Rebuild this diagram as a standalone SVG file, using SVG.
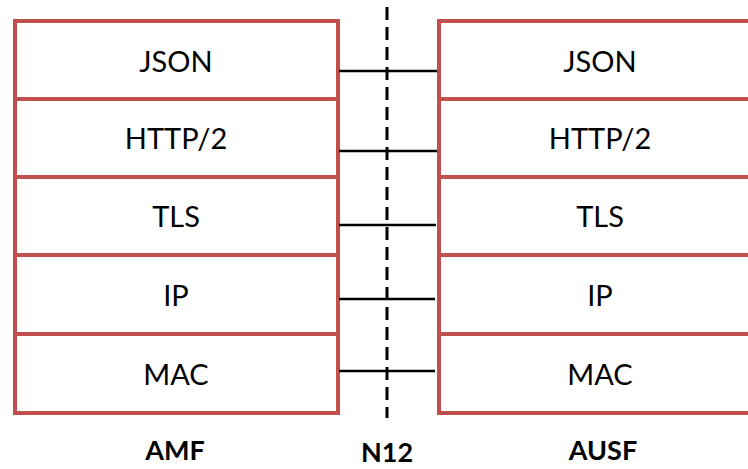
<svg xmlns="http://www.w3.org/2000/svg" width="748" height="469" viewBox="0 0 748 469">
<style>
.box{fill:#fff;stroke:#C0504D;stroke-width:4}
.t{font-family:Lato,"Liberation Sans",sans-serif;font-size:29px;fill:#000;text-anchor:middle}
.b{font-family:Lato,"Liberation Sans",sans-serif;font-size:27px;font-weight:bold;fill:#000;text-anchor:middle}
.c{stroke:#000;stroke-width:2.5;fill:none}
.d{stroke:#000;stroke-width:3;stroke-dasharray:13 7;fill:none}
</style>
<g id="amf">
<rect class="box" x="15" y="21" width="323" height="392"/>
<line class="box" x1="15" y1="99" x2="338" y2="99"/>
<line class="box" x1="15" y1="177" x2="338" y2="177"/>
<line class="box" x1="15" y1="255" x2="338" y2="255"/>
<line class="box" x1="15" y1="334" x2="338" y2="334"/>
<text class="t" x="176" y="72">JSON</text>
<text class="t" x="176" y="149">HTTP/2</text>
<text class="t" x="176" y="227">TLS</text>
<text class="t" x="176" y="306">IP</text>
<text class="t" x="176" y="385">MAC</text>
<text class="b" x="175" y="460">AMF</text>
</g>
<g id="ausf">
<rect class="box" x="439" y="21" width="322" height="392"/>
<line class="box" x1="439" y1="99" x2="761" y2="99"/>
<line class="box" x1="439" y1="177" x2="761" y2="177"/>
<line class="box" x1="439" y1="255" x2="761" y2="255"/>
<line class="box" x1="439" y1="334" x2="761" y2="334"/>
<text class="t" x="600" y="72">JSON</text>
<text class="t" x="600" y="149">HTTP/2</text>
<text class="t" x="600" y="227">TLS</text>
<text class="t" x="600" y="306">IP</text>
<text class="t" x="600" y="385">MAC</text>
<text class="b" x="603" y="460">AUSF</text>
</g>
<g id="connectors">
<line class="d" x1="387" y1="7" x2="387" y2="418"/>
<line class="c" x1="339" y1="71" x2="437" y2="71"/>
<line class="c" x1="339" y1="151" x2="437" y2="151"/>
<line class="c" x1="339" y1="225" x2="436" y2="225"/>
<line class="c" x1="339" y1="299" x2="435" y2="299"/>
<line class="c" x1="339" y1="371" x2="435" y2="371"/>
</g>
<g id="n12">
<text class="b" x="387" y="462">N12</text>
</g>
</svg>
